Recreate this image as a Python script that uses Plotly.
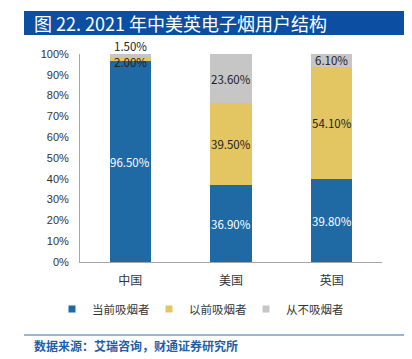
import plotly.graph_objects as go

categories = ["中国", "美国", "英国"]
current_smokers = [96.5, 36.9, 39.8]
former_smokers = [2.0, 39.5, 54.1]
never_smokers = [1.5, 23.6, 6.1]
series_names = ["当前吸烟者", "以前吸烟者", "从不吸烟者"]
colors = ["#1F6AA5", "#E3C561", "#C6C6C6"]
label_colors = ["#FFFFFF", "#222222", "#222222"]
y_ticks = [0, 10, 20, 30, 40, 50, 60, 70, 80, 90, 100]
y_tick_labels = [f"{t}%" for t in y_ticks]

CJK = "Noto Sans CJK SC"
series = [current_smokers, former_smokers, never_smokers]

fig = go.Figure()
for name, vals, col in zip(series_names, series, colors):
    fig.add_trace(go.Bar(
        x=categories, y=vals, name=name, marker=dict(color=col, line=dict(width=0)),
        hoverinfo="skip", showlegend=False,
    ))
# legend entries with small square markers
for name, col in zip(series_names, colors):
    fig.add_trace(go.Scatter(
        x=[None], y=[None], mode="markers", name=name,
        marker=dict(symbol="square", size=7, color=col), showlegend=True,
    ))

annotations = []
for ci, cat in enumerate(categories):
    base = 0
    for si, vals in enumerate(series):
        v = vals[ci]
        mid = base + v / 2
        yshift = 0
        ypos = mid
        col = label_colors[si]
        if v < 2.5 and si == 2:
            ypos = base + v
            yshift = 8
            col = "#222222"
        elif v < 2.5:
            yshift = -3
        annotations.append(dict(
            x=cat, y=ypos, xref="x", yref="y", text=f"{v:.2f}%",
            showarrow=False, yshift=yshift,
            font=dict(family=CJK, size=11.5, color=col),
        ))
        base += v

# geometry relative to plot area (ref pixels: plot top 54, bottom 262, left 80, right 382)
def py(ref_y):
    return (262 - ref_y) / 208

def px(ref_x):
    return (ref_x - 80) / 302

fig.add_shape(type="rect", xref="paper", yref="paper",
              x0=px(24), x1=px(408), y0=py(35), y1=py(11),
              fillcolor="#0B4EA2", line=dict(width=0), layer="above")
annotations.append(dict(
    xref="paper", yref="paper", x=px(32), y=py(23), xanchor="left", yanchor="middle",
    text="图 22. 2021 年中美英电子烟用户结构", showarrow=False,
    font=dict(family=CJK, size=18, color="#FFFFFF")))
fig.add_shape(type="line", xref="paper", yref="paper",
              x0=px(24), x1=px(408), y0=py(335), y1=py(335),
              line=dict(color="#2F6DB0", width=1))
annotations.append(dict(
    xref="paper", yref="paper", x=px(32), y=py(345), xanchor="left", yanchor="middle",
    text="<b>数据来源：艾瑞咨询，财通证券研究所</b>", showarrow=False,
    font=dict(family=CJK, size=12, color="#1F5FA8")))

# page body has an 8px default margin, so the figure is 8px smaller than the window
fig.update_layout(
    width=404, height=351,
    margin=dict(l=72, r=30, t=46, b=97),
    barmode="stack", bargap=0.59,
    paper_bgcolor="white", plot_bgcolor="white",
    showlegend=True,
    legend=dict(orientation="h", x=px(52), xanchor="left",
                y=py(309), yanchor="middle",
                font=dict(family=CJK, size=11.5, color="#333333"), itemwidth=30,
                entrywidth=52, entrywidthmode="pixels",
                traceorder="normal"),
    annotations=annotations,
    xaxis=dict(showline=True, linecolor="#A6A6A6", linewidth=1, ticks="",
               ticklabelstandoff=8,
               tickfont=dict(family=CJK, size=12, color="#333333"), showgrid=False),
    yaxis=dict(range=[0, 100], tickvals=y_ticks, ticktext=y_tick_labels, showline=True,
               linecolor="#A6A6A6", linewidth=1, showgrid=False, zeroline=False,
               ticklabelstandoff=8,
               tickfont=dict(family="Liberation Sans", size=11, color="#333333")),
)

fig.write_html("out.html")
